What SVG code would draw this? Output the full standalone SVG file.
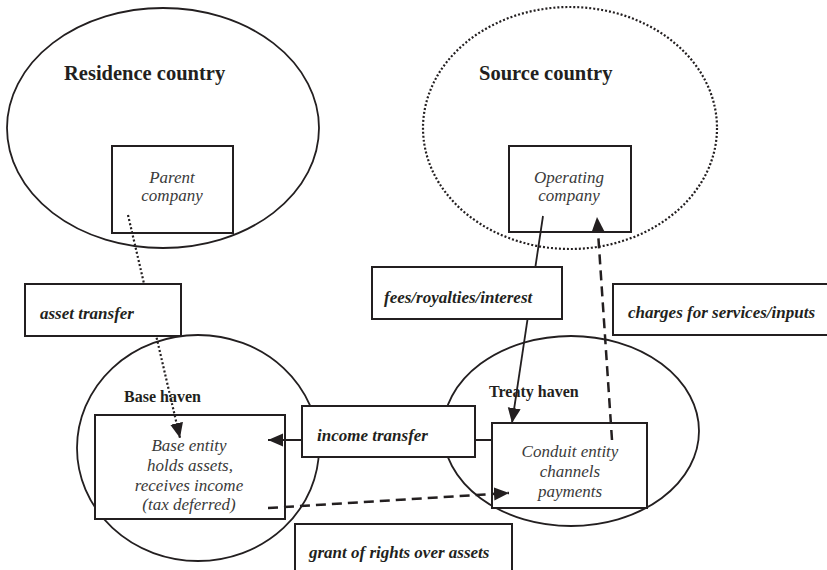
<svg xmlns="http://www.w3.org/2000/svg" width="827" height="570" viewBox="0 0 827 570">
<style>
.bg{fill:#ffffff}
.ell{fill:none;stroke:#231f20;stroke-width:1.8}
.dotell{fill:none;stroke:#231f20;stroke-width:2.2;stroke-dasharray:2 2}
.box{fill:#ffffff;stroke:#231f20;stroke-width:2}
.title{font-family:"Liberation Serif","Times New Roman",serif;font-weight:bold;fill:#231f20}
.node{font-family:"Liberation Serif","Times New Roman",serif;font-style:italic;font-size:17px;fill:#3a3a3a;text-anchor:middle}
.lab{font-family:"Liberation Serif","Times New Roman",serif;font-style:italic;font-weight:bold;font-size:17px;fill:#231f20}
.solid{fill:none;stroke:#231f20;stroke-width:1.8}
.dash{fill:none;stroke:#231f20;stroke-width:2.5;stroke-dasharray:10 6}
.dot{fill:none;stroke:#231f20;stroke-width:2.2;stroke-dasharray:2 2.2}
</style>
<defs>
<marker id="arr" markerUnits="userSpaceOnUse" markerWidth="18" markerHeight="14" refX="15" refY="6.5" orient="auto">
<path d="M0,0 L15,6.5 L0,13 Z" fill="#231f20" stroke="none"/>
</marker>
</defs>
<rect class="bg" x="0" y="0" width="827" height="570"/>

<g id="residence-country">
<ellipse class="ell" cx="163" cy="128" rx="156" ry="120"/>
<text class="title" x="64" y="80" font-size="20.5">Residence country</text>
</g>
<g id="source-country">
<ellipse class="dotell" cx="570" cy="128" rx="147" ry="121"/>
<text class="title" x="479" y="80" font-size="20.5">Source country</text>
</g>
<g id="base-haven">
<ellipse class="ell" cx="198" cy="448" rx="121" ry="113"/>
<text class="title" x="124" y="402" font-size="16">Base haven</text>
</g>
<g id="treaty-haven">
<ellipse class="ell" cx="571" cy="431" rx="128" ry="95"/>
<text class="title" x="489" y="397" font-size="16">Treaty haven</text>
</g>

<g id="parent-company">
<rect class="box" x="112" y="146" width="121" height="87"/>
<text class="node" x="172" y="183">Parent</text>
<text class="node" x="172" y="201">company</text>
</g>
<g id="operating-company">
<rect class="box" x="509" y="146" width="122" height="86"/>
<text class="node" x="569" y="183">Operating</text>
<text class="node" x="569" y="201">company</text>
</g>
<g id="base-entity">
<rect class="box" x="95" y="415" width="190" height="104"/>
<text class="node" x="189" y="451">Base entity</text>
<text class="node" x="190" y="471">holds assets,</text>
<text class="node" x="189" y="491">receives income</text>
<text class="node" x="189" y="510">(tax deferred)</text>
</g>
<g id="conduit-entity">
<rect class="box" x="492" y="423" width="155" height="85"/>
<text class="node" x="570" y="457">Conduit entity</text>
<text class="node" x="570" y="477">channels</text>
<text class="node" x="570" y="497">payments</text>
</g>

<g id="connectors">
<line class="dot" x1="128" y1="215" x2="180" y2="438" marker-end="url(#arr)"/>
<line class="solid" x1="543" y1="216" x2="512" y2="423" marker-end="url(#arr)"/>
<line class="dash" x1="612" y1="440" x2="597" y2="217" marker-end="url(#arr)"/>
<line class="solid" x1="492" y1="440" x2="268" y2="440" marker-end="url(#arr)"/>
<line class="dash" x1="268" y1="508" x2="509" y2="493" marker-end="url(#arr)"/>
</g>

<g id="label-asset-transfer">
<rect class="box" x="25" y="284" width="156" height="52"/>
<text class="lab" x="40" y="319">asset transfer</text>
</g>
<g id="label-fees">
<rect class="box" x="372" y="267" width="190" height="52"/>
<text class="lab" x="384" y="303">fees/royalties/interest</text>
</g>
<g id="label-charges">
<rect class="box" x="613" y="284" width="220" height="51"/>
<text class="lab" x="628" y="318">charges for services/inputs</text>
</g>
<g id="label-income-transfer">
<rect class="box" x="302" y="406" width="173" height="51"/>
<text class="lab" x="317" y="441">income transfer</text>
</g>
<g id="label-grant">
<rect class="box" x="295" y="524" width="217" height="60"/>
<text class="lab" x="309" y="558">grant of rights over assets</text>
</g>
</svg>
